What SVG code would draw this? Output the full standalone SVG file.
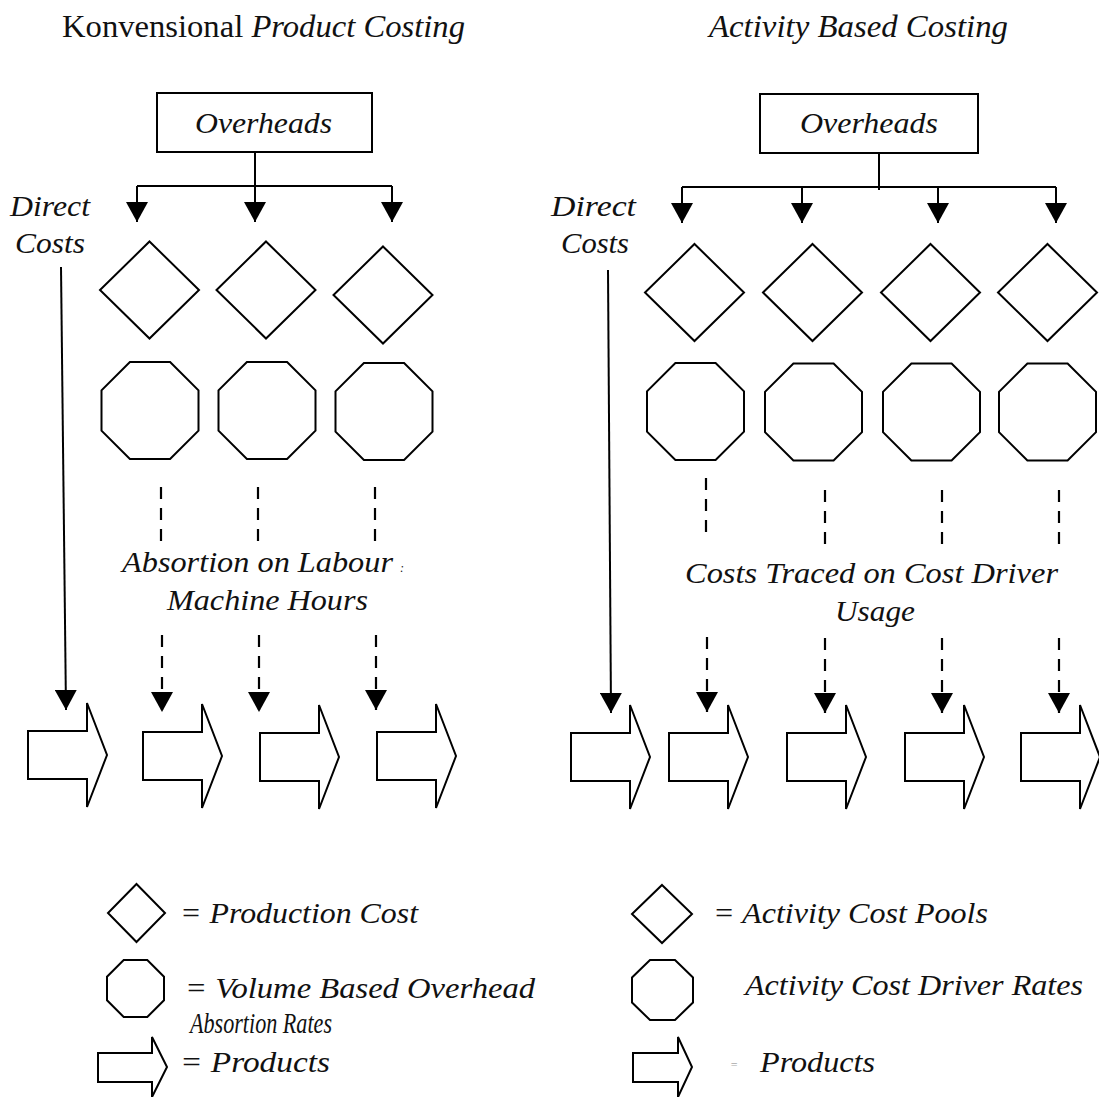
<svg xmlns="http://www.w3.org/2000/svg" width="1099" height="1097" viewBox="0 0 1099 1097">
<style>
.ln{stroke:#000;stroke-width:2;fill:none}
.dl{stroke:#000;stroke-width:2.2;fill:none;stroke-dasharray:12 9}
.sh{fill:#fff;stroke:#000;stroke-width:2}
.t{font-family:"Liberation Serif","Times New Roman",serif;font-style:italic;font-size:30px;fill:#111}
.n{font-style:normal}
.lg{font-size:29px}
</style>
<defs>
<marker id="ah" viewBox="0 0 20 22" refX="20" refY="11" markerWidth="20" markerHeight="22" markerUnits="userSpaceOnUse" orient="auto">
<path d="M0,0 L20,11 L0,22 Z" fill="#000"/>
</marker>
<path id="prod" class="sh" d="M0,-24 H59 V-52 L79,0 L59,52 V24 H0 Z"/>
<polygon id="dia" class="sh" points="0,-48.5 49.5,0 0,48.5 -49.5,0"/>
<polygon id="oct" class="sh" points="-20.1,-48.5 20.1,-48.5 48.5,-20.1 48.5,20.1 20.1,48.5 -20.1,48.5 -48.5,20.1 -48.5,-20.1"/>
</defs>

<g id="titles">
<text class="t" x="62" y="37" style="font-size:31px" textLength="403" lengthAdjust="spacingAndGlyphs"><tspan class="n">Konvensional </tspan>Product Costing</text>
<text class="t" x="709" y="37" style="font-size:31px" textLength="299" lengthAdjust="spacingAndGlyphs">Activity Based Costing</text>
</g>

<g id="connectors">
<polyline class="ln" points="255,152 255,186"/>
<polyline class="ln" points="137,186 392,186"/>
<line class="ln" x1="137" y1="186" x2="137" y2="222" marker-end="url(#ah)"/>
<line class="ln" x1="255" y1="186" x2="255" y2="222" marker-end="url(#ah)"/>
<line class="ln" x1="392" y1="186" x2="392" y2="222" marker-end="url(#ah)"/>
<line class="ln" x1="61" y1="267" x2="66" y2="710" marker-end="url(#ah)"/>
<line class="dl" x1="161" y1="487" x2="161" y2="545"/>
<line class="dl" x1="258" y1="487" x2="258" y2="545"/>
<line class="dl" x1="375" y1="487" x2="375" y2="545"/>
<line class="dl" x1="162" y1="635" x2="162" y2="712" marker-end="url(#ah)"/>
<line class="dl" x1="259" y1="635" x2="259" y2="712" marker-end="url(#ah)"/>
<line class="dl" x1="376" y1="635" x2="376" y2="710" marker-end="url(#ah)"/>
<polyline class="ln" points="879,153 879,190"/>
<polyline class="ln" points="682,187 1056,187"/>
<line class="ln" x1="682" y1="187" x2="682" y2="223" marker-end="url(#ah)"/>
<line class="ln" x1="802" y1="187" x2="802" y2="223" marker-end="url(#ah)"/>
<line class="ln" x1="938" y1="187" x2="938" y2="223" marker-end="url(#ah)"/>
<line class="ln" x1="1056" y1="187" x2="1056" y2="223" marker-end="url(#ah)"/>
<line class="ln" x1="608" y1="270" x2="611" y2="713" marker-end="url(#ah)"/>
<line class="dl" x1="706" y1="478" x2="706" y2="535"/>
<line class="dl" x1="825" y1="490" x2="825" y2="547"/>
<line class="dl" x1="942" y1="490" x2="942" y2="547"/>
<line class="dl" x1="1059" y1="490" x2="1059" y2="547"/>
<line class="dl" x1="707" y1="637" x2="707" y2="712" marker-end="url(#ah)"/>
<line class="dl" x1="825" y1="638" x2="825" y2="713" marker-end="url(#ah)"/>
<line class="dl" x1="942" y1="638" x2="942" y2="713" marker-end="url(#ah)"/>
<line class="dl" x1="1059" y1="638" x2="1059" y2="713" marker-end="url(#ah)"/>
</g>

<g id="overheads-left"><rect class="sh" x="157" y="93" width="215" height="59"/><text class="t" x="195" y="133" textLength="137" lengthAdjust="spacingAndGlyphs">Overheads</text></g>
<g id="overheads-right"><rect class="sh" x="760" y="94" width="218" height="59"/><text class="t" x="800" y="133" textLength="138" lengthAdjust="spacingAndGlyphs">Overheads</text></g>

<g id="direct-left"><text class="t" x="10" y="216" textLength="80" lengthAdjust="spacingAndGlyphs">Direct</text><text class="t" x="15" y="253" textLength="70" lengthAdjust="spacingAndGlyphs">Costs</text></g>
<g id="direct-right"><text class="t" x="551" y="216" textLength="85" lengthAdjust="spacingAndGlyphs">Direct</text><text class="t" x="561" y="253" textLength="68" lengthAdjust="spacingAndGlyphs">Costs</text></g>

<g id="pools-left">
<use href="#dia" x="149.5" y="290"/><use href="#dia" x="266" y="290"/><use href="#dia" x="383" y="295"/>
</g>
<g id="pools-right">
<use href="#dia" x="694.5" y="292.5"/><use href="#dia" x="812.5" y="292.5"/><use href="#dia" x="930.5" y="292.5"/><use href="#dia" x="1047.5" y="292.5"/>
</g>
<g id="rates-left">
<use href="#oct" x="150" y="410.5"/><use href="#oct" x="267" y="410.5"/><use href="#oct" x="384" y="411.5"/>
</g>
<g id="rates-right">
<use href="#oct" x="695.5" y="411.5"/><use href="#oct" x="813.5" y="412"/><use href="#oct" x="931.5" y="412"/><use href="#oct" x="1047.5" y="412"/>
</g>

<g id="label-absorption">
<text class="t" x="122" y="572" textLength="271" lengthAdjust="spacingAndGlyphs">Absortion on Labour</text>
<text class="t" x="400" y="572" style="font-size:12px">:</text>
<text class="t" x="167" y="610" textLength="201" lengthAdjust="spacingAndGlyphs">Machine Hours</text>
</g>
<g id="label-traced">
<text class="t" x="685" y="583" textLength="373" lengthAdjust="spacingAndGlyphs">Costs Traced on Cost Driver</text>
<text class="t" x="835" y="621" textLength="80" lengthAdjust="spacingAndGlyphs">Usage</text>
</g>

<g id="products-left">
<use href="#prod" x="28" y="755"/><use href="#prod" x="143" y="756"/><use href="#prod" x="260" y="757"/><use href="#prod" x="377" y="756"/>
</g>
<g id="products-right">
<use href="#prod" x="571" y="757"/><use href="#prod" x="669" y="757"/><use href="#prod" x="787" y="757"/><use href="#prod" x="905" y="757"/><use href="#prod" x="1021" y="757"/>
</g>

<g id="legend-left">
<polygon class="sh" points="136.5,884 165,913 136.5,942 108,913"/>
<text class="t lg" x="180" y="923" textLength="238" lengthAdjust="spacingAndGlyphs">= Production Cost</text>
<polygon class="sh" points="123.7,960 147.3,960 164,976.7 164,1000.3 147.3,1017 123.7,1017 107,1000.3 107,976.7"/>
<text class="t lg" x="185" y="998" textLength="350" lengthAdjust="spacingAndGlyphs">= Volume Based Overhead</text>
<text class="t lg" x="190" y="1033" textLength="142" lengthAdjust="spacingAndGlyphs">Absortion Rates</text>
<path class="sh" d="M98,1053 H152 V1037 L167,1067 L152,1097 V1082 H98 Z"/>
<text class="t lg" x="180" y="1072" textLength="150" lengthAdjust="spacingAndGlyphs">= Products</text>
</g>
<g id="legend-right">
<polygon class="sh" points="662,885 692,914 662,943 632,914"/>
<text class="t lg" x="713" y="923" textLength="275" lengthAdjust="spacingAndGlyphs">= Activity Cost Pools</text>
<polygon class="sh" points="650,960 675,960 693,977.5 693,1002.5 675,1020 650,1020 632,1002.5 632,977.5"/>
<text class="t lg" x="745" y="995" textLength="338" lengthAdjust="spacingAndGlyphs">Activity Cost Driver Rates</text>
<path class="sh" d="M633,1053 H678 V1037 L692,1067 L678,1097 V1082 H633 Z"/>
<text class="t" x="730" y="1069" style="font-size:12px;fill:#aaa">=</text>
<text class="t lg" x="760" y="1072" textLength="115" lengthAdjust="spacingAndGlyphs">Products</text>
</g>
</svg>
